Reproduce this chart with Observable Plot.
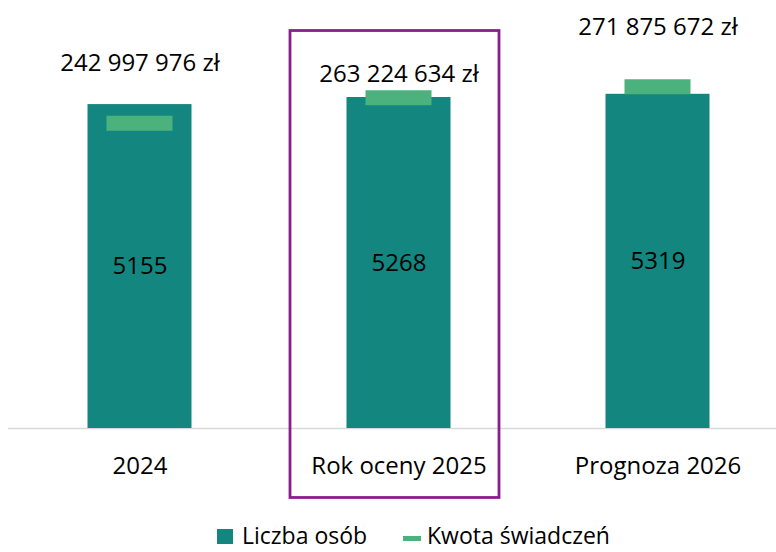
<!DOCTYPE html>
<html>
<head>
<meta charset="utf-8">
<script src="https://cdn.jsdelivr.net/npm/d3@7"></script>
<script src="https://cdn.jsdelivr.net/npm/@observablehq/plot@0.6"></script>
<style>
  html, body { margin: 0; padding: 0; background: #fff; }
  body { width: 776px; height: 552px; overflow: hidden; font-family: "Open Sans", sans-serif; }
  #legend text { font-family: "Open Sans", sans-serif; font-size: 23px; fill: #000; }
</style>
</head>
<body>
<div id="chart"></div>
<svg id="legend" width="776" height="40" style="display:block">
  <rect x="217" y="17" width="16" height="15" fill="#13867f"></rect>
  <text x="242" y="32">Liczba osób</text>
  <rect x="403" y="24" width="18" height="5" fill="#4bb27e"></rect>
  <text x="427" y="32">Kwota świadczeń</text>
</svg>
<script>
const categories = ["2024", "Rok oceny 2025", "Prognoza 2026"];
const liczbaOsob = [5155, 5268, 5319];
const kwotaSwiadczen = [242997976, 263224634, 271875672];
const highlight = "Rok oceny 2025";

const Y1MAX = 6000;      // primary axis (Liczba osób)
const Y2MAX = 300000000; // secondary axis (Kwota świadczeń)

const data = categories.map((c, i) => ({cat: c, osoby: liczbaOsob[i], kwota: kwotaSwiadczen[i]}));
const toY1 = v => v * Y1MAX / Y2MAX;
const fmtZl = v => String(v).replace(/\B(?=(\d{3})+(?!\d))/g, " ") + " zł";

const teal = "#13867f";
const green = "#4bb27e";
const purple = "#8c1d8e";

const chart = Plot.plot({
  width: 776,
  height: 512,
  marginTop: 51,
  marginBottom: 84,
  marginLeft: 8,
  marginRight: 0,
  style: {fontFamily: "Open Sans, sans-serif", color: "#000", background: "#fff"},
  x: {domain: categories, range: [9.5, 786.5], padding: 0, axis: null},
  y: {domain: [0, Y1MAX], axis: null},
  marks: [
    Plot.ruleY([0], {stroke: "#d9d9d9", strokeWidth: 1.3}),
    Plot.barY(data, {x: "cat", y: "osoby", fill: teal, insetLeft: 77.5, insetRight: 77.5}),
    Plot.tickY(data, {x: "cat", y: d => toY1(d.kwota), stroke: green, strokeWidth: 15, insetLeft: 96.5, insetRight: 96.5}),
    Plot.text(data, {x: "cat", y: d => d.osoby / 2, text: d => String(d.osoby), fontSize: 24, fill: "#000"}),
    Plot.text(data.filter(d => d.cat !== highlight), {x: "cat", y: d => toY1(d.kwota), text: d => fmtZl(d.kwota), dy: -60, fontSize: 24, fill: "#000"}),
    Plot.text(data.filter(d => d.cat === highlight), {x: "cat", y: d => toY1(d.kwota), text: d => fmtZl(d.kwota), dy: -23, fontSize: 24, fill: "#000"}),
    Plot.axisX({domain: categories, tickSize: 0, tickPadding: 28, fontSize: 24, label: null, fill: "#000"}),
    Plot.barY([highlight], {x: d => d, y1: -1106, y2: 6326, fill: "none", stroke: purple, strokeWidth: 2.8, insetLeft: 21, insetRight: 29})
  ]
});
document.getElementById("chart").appendChild(chart);
</script>
</body>
</html>
